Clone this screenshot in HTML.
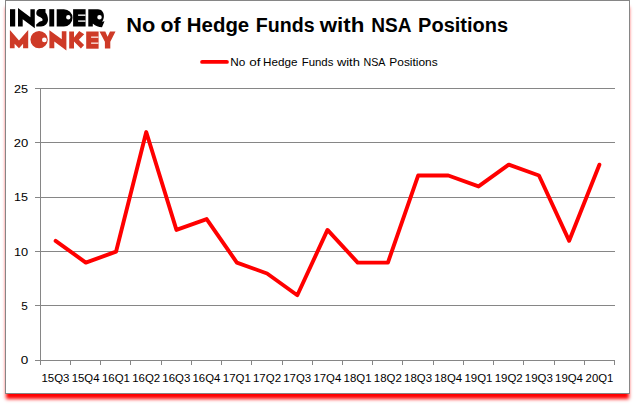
<!DOCTYPE html>
<html><head><meta charset="utf-8"><title>No of Hedge Funds with NSA Positions</title>
<style>
html,body{margin:0;padding:0;background:#fff;}
body{width:635px;height:405px;overflow:hidden;position:relative;font-family:"Liberation Sans",sans-serif;}
#frame{position:absolute;left:5px;top:0;width:623px;height:392px;border:1px solid #868686;background:#fff;box-shadow:0 6px 3.5px -1px #ff0000;}
svg{position:absolute;left:0;top:0;}
text{font-family:"Liberation Sans",sans-serif;fill:#000;}
</style></head><body>
<div id="frame"></div>
<svg width="635" height="405" viewBox="0 0 635 405">

<g shape-rendering="crispEdges" stroke="#868686" stroke-width="1" fill="none">
<line x1="35" y1="88.5" x2="615" y2="88.5"/>
<line x1="35" y1="142.5" x2="615" y2="142.5"/>
<line x1="35" y1="197.5" x2="615" y2="197.5"/>
<line x1="35" y1="251.5" x2="615" y2="251.5"/>
<line x1="35" y1="305.5" x2="615" y2="305.5"/>
<line x1="35" y1="360.5" x2="615" y2="360.5"/>
<line x1="40.5" y1="88" x2="40.5" y2="365"/>
<line x1="70.5" y1="360" x2="70.5" y2="365"/>
<line x1="100.5" y1="360" x2="100.5" y2="365"/>
<line x1="130.5" y1="360" x2="130.5" y2="365"/>
<line x1="161.5" y1="360" x2="161.5" y2="365"/>
<line x1="191.5" y1="360" x2="191.5" y2="365"/>
<line x1="221.5" y1="360" x2="221.5" y2="365"/>
<line x1="251.5" y1="360" x2="251.5" y2="365"/>
<line x1="282.5" y1="360" x2="282.5" y2="365"/>
<line x1="312.5" y1="360" x2="312.5" y2="365"/>
<line x1="342.5" y1="360" x2="342.5" y2="365"/>
<line x1="372.5" y1="360" x2="372.5" y2="365"/>
<line x1="402.5" y1="360" x2="402.5" y2="365"/>
<line x1="433.5" y1="360" x2="433.5" y2="365"/>
<line x1="463.5" y1="360" x2="463.5" y2="365"/>
<line x1="493.5" y1="360" x2="493.5" y2="365"/>
<line x1="523.5" y1="360" x2="523.5" y2="365"/>
<line x1="554.5" y1="360" x2="554.5" y2="365"/>
<line x1="584.5" y1="360" x2="584.5" y2="365"/>
<line x1="614.5" y1="360" x2="614.5" y2="365"/>
</g>
<text x="14.07" y="93" font-size="11.6" textLength="14.07" lengthAdjust="spacingAndGlyphs">25</text>
<text x="13.85" y="147" font-size="11.6" textLength="14.50" lengthAdjust="spacingAndGlyphs">20</text>
<text x="13.96" y="201" font-size="11.6" textLength="13.97" lengthAdjust="spacingAndGlyphs">15</text>
<text x="13.94" y="256" font-size="11.6" textLength="14.20" lengthAdjust="spacingAndGlyphs">10</text>
<text x="21.33" y="310" font-size="11.6" textLength="6.56" lengthAdjust="spacingAndGlyphs">5</text>
<text x="20.66" y="364" font-size="11.6" textLength="7.49" lengthAdjust="spacingAndGlyphs">0</text>
<text x="41.50" y="381.6" font-size="11.7" textLength="27.99" lengthAdjust="spacingAndGlyphs">15Q3</text>
<text x="71.71" y="381.6" font-size="11.7" textLength="27.81" lengthAdjust="spacingAndGlyphs">15Q4</text>
<text x="101.92" y="381.6" font-size="11.7" textLength="28.05" lengthAdjust="spacingAndGlyphs">16Q1</text>
<text x="132.13" y="381.6" font-size="11.7" textLength="28.05" lengthAdjust="spacingAndGlyphs">16Q2</text>
<text x="162.34" y="381.6" font-size="11.7" textLength="27.99" lengthAdjust="spacingAndGlyphs">16Q3</text>
<text x="192.56" y="381.6" font-size="11.7" textLength="27.81" lengthAdjust="spacingAndGlyphs">16Q4</text>
<text x="222.76" y="381.6" font-size="11.7" textLength="28.05" lengthAdjust="spacingAndGlyphs">17Q1</text>
<text x="252.97" y="381.6" font-size="11.7" textLength="28.05" lengthAdjust="spacingAndGlyphs">17Q2</text>
<text x="283.18" y="381.6" font-size="11.7" textLength="27.99" lengthAdjust="spacingAndGlyphs">17Q3</text>
<text x="313.40" y="381.6" font-size="11.7" textLength="27.81" lengthAdjust="spacingAndGlyphs">17Q4</text>
<text x="343.60" y="381.6" font-size="11.7" textLength="28.05" lengthAdjust="spacingAndGlyphs">18Q1</text>
<text x="373.81" y="381.6" font-size="11.7" textLength="28.05" lengthAdjust="spacingAndGlyphs">18Q2</text>
<text x="404.02" y="381.6" font-size="11.7" textLength="27.99" lengthAdjust="spacingAndGlyphs">18Q3</text>
<text x="434.24" y="381.6" font-size="11.7" textLength="27.81" lengthAdjust="spacingAndGlyphs">18Q4</text>
<text x="464.44" y="381.6" font-size="11.7" textLength="28.05" lengthAdjust="spacingAndGlyphs">19Q1</text>
<text x="494.65" y="381.6" font-size="11.7" textLength="28.05" lengthAdjust="spacingAndGlyphs">19Q2</text>
<text x="524.87" y="381.6" font-size="11.7" textLength="27.99" lengthAdjust="spacingAndGlyphs">19Q3</text>
<text x="555.08" y="381.6" font-size="11.7" textLength="27.81" lengthAdjust="spacingAndGlyphs">19Q4</text>
<text x="585.58" y="381.6" font-size="11.7" textLength="27.75" lengthAdjust="spacingAndGlyphs">20Q1</text>
<polyline points="55.61,240.82 85.82,262.58 116.03,251.70 146.24,132.02 176.45,229.94 206.66,219.06 236.87,262.58 267.08,273.46 297.29,295.22 327.50,229.94 357.71,262.58 387.92,262.58 418.13,175.54 448.34,175.54 478.55,186.42 508.76,164.66 538.97,175.54 569.18,240.82 599.39,164.66" fill="none" stroke="#ff0000" stroke-width="3.9" stroke-linejoin="round" stroke-linecap="round"/>
<line x1="202.1" y1="61.9" x2="226.9" y2="61.9" stroke="#ff0000" stroke-width="3.9" stroke-linecap="round"/>
<text x="230.16" y="65.7" font-size="11.6" textLength="15.05" lengthAdjust="spacingAndGlyphs">No</text>
<text x="249.26" y="65.7" font-size="11.6" textLength="11.22" lengthAdjust="spacingAndGlyphs">of</text>
<text x="263.07" y="65.7" font-size="11.6" textLength="34.38" lengthAdjust="spacingAndGlyphs">Hedge</text>
<text x="301.69" y="65.7" font-size="11.6" textLength="31.70" lengthAdjust="spacingAndGlyphs">Funds</text>
<text x="336.90" y="65.7" font-size="11.6" textLength="22.98" lengthAdjust="spacingAndGlyphs">with</text>
<text x="363.45" y="65.7" font-size="11.6" textLength="21.97" lengthAdjust="spacingAndGlyphs">NSA</text>
<text x="389.35" y="65.7" font-size="11.6" textLength="48.34" lengthAdjust="spacingAndGlyphs">Positions</text>
<text x="126.18" y="31.7" font-size="19.6" font-weight="bold" textLength="29.05" lengthAdjust="spacingAndGlyphs">No</text>
<text x="160.45" y="31.7" font-size="19.6" font-weight="bold" textLength="20.13" lengthAdjust="spacingAndGlyphs">of</text>
<text x="186.87" y="31.7" font-size="19.6" font-weight="bold" textLength="62.37" lengthAdjust="spacingAndGlyphs">Hedge</text>
<text x="255.83" y="31.7" font-size="19.6" font-weight="bold" textLength="58.75" lengthAdjust="spacingAndGlyphs">Funds</text>
<text x="319.70" y="31.7" font-size="19.6" font-weight="bold" textLength="44.63" lengthAdjust="spacingAndGlyphs">with</text>
<text x="371.26" y="31.7" font-size="19.6" font-weight="bold" textLength="40.24" lengthAdjust="spacingAndGlyphs">NSA</text>
<text x="418.10" y="31.7" font-size="19.6" font-weight="bold" textLength="90.01" lengthAdjust="spacingAndGlyphs">Positions</text>
<g id="logo">
<rect x="10" y="9.2" width="5.2" height="17.3" fill="#000"/>
<path d="M18 26.5 V8 L30.4 17.2 V9.2 H34.8 V28.3 L22.7 19.2 V26.5 Z" fill="#000"/>
<path d="M36.2 26.5 V24.6 C37.5 23.3 38.5 22.4 39.1 21.9 C40.3 21.2 41.8 21.2 42.3 20.7 C42.7 20.3 42.7 19.8 42.5 19.5 C42.3 18.9 42.1 18.6 41.9 18.3 C41 17.5 40.5 17.2 39.9 16.9 C38.5 16.3 37 16 36.5 14.6 C36.2 13.5 36.2 12 36.9 10.8 C37.6 9.7 38.8 9.1 40 9.1 H45.5 V12.5 C46.9 14 48 16.8 48 19.5 C48 23.5 45 26.5 41 26.5 Z" fill="#000"/>
<rect x="49.3" y="9.2" width="4.9" height="17.3" fill="#000"/>
<path d="M56.7 9.2 H63.9 A8.65 8.65 0 0 1 63.9 26.5 H56.7 Z M70.5 17.3 A2.2 2.2 0 1 0 66.1 17.3 A2.2 2.2 0 1 0 70.5 17.3 Z" fill="#000" fill-rule="evenodd"/>
<rect x="73.1" y="9.2" width="12.5" height="17.3" fill="#000"/>
<rect x="78.1" y="14.4" width="7.5" height="1.6" fill="#d4d4d4"/>
<rect x="78.1" y="20.3" width="7.5" height="1.6" fill="#d4d4d4"/>
<path d="M88.3 9.2 H98 C101.5 9.2 103.9 12 103.9 16 C103.9 18.5 103.1 20.5 102 21.8 L104.5 21.3 L102 27.2 C98.5 27.2 95.5 26 93 23.8 H92.8 V26.5 H88.3 Z M101.75 17.15 A2.25 2.25 0 1 0 97.25 17.15 A2.25 2.25 0 1 0 101.75 17.15 Z" fill="#000" fill-rule="evenodd"/>
<path d="M9.9 48.2 V30.1 L19 40.5 L28.2 30.1 V48.2 H23.1 V43.7 L19 48.2 L14.6 43.7 V48.2 Z" fill="#ce3a27"/>
<path d="M47.8 39.6 A8.7 8.7 0 1 0 30.4 39.6 A8.7 8.7 0 1 0 47.8 39.6 Z M46.8 39.9 A2.4 2.4 0 1 0 42 39.9 A2.4 2.4 0 1 0 46.8 39.9 Z" fill="#ce3a27" fill-rule="evenodd"/>
<path d="M49.4 48.2 V30.2 L61.8 39.3 V31.3 H66.4 V50.5 L54.3 41.5 V48.2 Z" fill="#ce3a27"/>
<path d="M69.2 31.6 H74 V37.4 L79.2 31.1 L84.2 34.2 L78.8 39.7 L84.1 45.1 L80.9 48.5 L74 41.4 V48.6 H69.2 Z" fill="#ce3a27"/>
<rect x="86.2" y="31.5" width="12.4" height="17.2" fill="#ce3a27"/>
<rect x="91.1" y="36.4" width="7.5" height="1.6" fill="#f3c9c1"/>
<rect x="91.1" y="42.4" width="7.5" height="1.6" fill="#f3c9c1"/>
<path d="M99.5 31.6 H105.3 L107.6 36.8 L110 31.6 H115.5 L110.3 41.8 V48.6 H104.9 V41.8 Z" fill="#ce3a27"/>
</g>
</svg></body></html>
